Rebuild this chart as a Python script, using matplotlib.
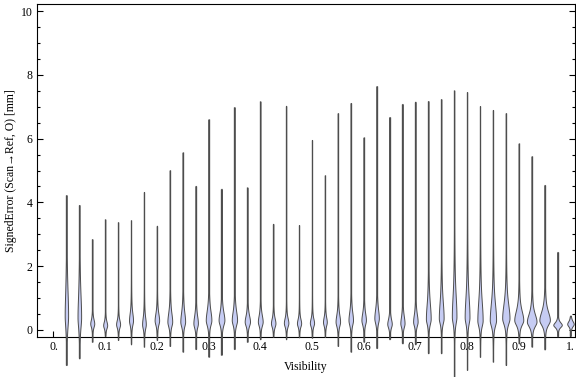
import numpy as np
import matplotlib
matplotlib.use("Agg")
import matplotlib.pyplot as plt
from matplotlib.ticker import MultipleLocator, FixedLocator

plt.rcParams['font.family'] = ['Liberation Serif', 'DejaVu Serif']

# one violin per visibility bin
visibility = [0.025, 0.05, 0.075, 0.1, 0.125, 0.15, 0.175, 0.2, 0.225, 0.25,
              0.275, 0.3, 0.325, 0.35, 0.375, 0.4, 0.425, 0.45, 0.475, 0.5,
              0.525, 0.55, 0.575, 0.6, 0.625, 0.65, 0.675, 0.7, 0.725, 0.75,
              0.775, 0.8, 0.825, 0.85, 0.875, 0.9, 0.925, 0.95, 0.975, 1.0]

# range of signed error per bin [mm]
err_max = [4.23, 3.92, 2.85, 3.47, 3.38, 3.44, 4.33, 3.27, 5.01, 5.57,
           4.52, 6.61, 4.43, 6.99, 4.47, 7.17, 3.33, 7.03, 3.29, 5.96,
           4.85, 6.80, 7.12, 6.04, 7.65, 6.68, 7.09, 7.16, 7.18, 7.24,
           7.51, 7.46, 7.02, 6.90, 6.80, 5.85, 5.45, 4.55, 2.45, 0.45]
err_min = [-1.10, -0.89, -0.37, -0.19, -0.31, -0.45, -0.52, -0.31, -0.50, -0.68,
           -0.60, -0.84, -0.78, -0.60, -0.37, -0.29, -0.21, -0.29, -0.23, -0.24,
           -0.22, -0.50, -0.68, -0.37, -0.57, -0.29, -0.42, -0.45, -0.73, -0.73,
           -1.46, -1.25, -0.84, -0.99, -1.10, -0.42, -0.52, -0.61, -0.20, -0.19]

# density summary: mode, relative peak density, spread above / below mode
mode = [0.45, 0.40, 0.20, 0.15, 0.18, 0.30, 0.18, 0.30, 0.26, 0.26,
        0.21, 0.31, 0.31, 0.31, 0.26, 0.26, 0.21, 0.22, 0.21, 0.22,
        0.25, 0.26, 0.31, 0.31, 0.37, 0.19, 0.21, 0.26, 0.35, 0.37,
        0.42, 0.40, 0.30, 0.31, 0.37, 0.31, 0.26, 0.31, 0.16, 0.19]
peak = [3.4, 3.6, 4.0, 4.0, 4.0, 4.0, 3.7, 4.5, 4.8, 4.8,
        4.5, 5.6, 5.8, 5.3, 5.3, 4.8, 4.5, 4.5, 4.2, 4.2,
        3.8, 4.5, 4.5, 4.5, 4.5, 4.5, 4.2, 4.5, 4.8, 4.8,
        4.6, 4.8, 5.3, 6.3, 7.3, 9.0, 9.6, 10.5, 8.5, 6.5]
spread_up = [1.00, 0.90, 0.17, 0.15, 0.17, 0.30, 0.28, 0.28, 0.35, 0.38,
             0.30, 0.38, 0.32, 0.35, 0.25, 0.26, 0.20, 0.20, 0.18, 0.18,
             0.20, 0.28, 0.33, 0.28, 0.35, 0.20, 0.28, 0.30, 0.60, 0.65,
             0.85, 0.80, 0.75, 0.65, 0.55, 0.36, 0.30, 0.33, 0.10, 0.11]
spread_dn = [0.45, 0.40, 0.13, 0.12, 0.13, 0.18, 0.17, 0.17, 0.18, 0.18,
             0.17, 0.20, 0.19, 0.19, 0.16, 0.16, 0.14, 0.14, 0.13, 0.13,
             0.14, 0.17, 0.19, 0.17, 0.19, 0.14, 0.15, 0.16, 0.20, 0.20,
             0.26, 0.25, 0.22, 0.22, 0.22, 0.18, 0.17, 0.18, 0.085, 0.09]

fill_col = '#c6ccf3'
edge_col = '#4d4d4d'
width_scale = 0.5 / 517.0   # peak value -> half width in x units

fig = plt.figure(figsize=(5.76, 3.77), dpi=100)
ax = fig.add_axes([0.0642, 0.1053, 0.934, 0.884])

# thin tails covering the full range
ax.vlines(visibility, err_min, err_max, colors=edge_col, lw=1.0, alpha=0.85,
          clip_on=False, zorder=2)

for x, lo, hi, m, p, su, sd in zip(visibility, err_min, err_max, mode, peak,
                                   spread_up, spread_dn):
    y = np.linspace(lo, hi, 800)
    s = np.where(y > m, su, sd)
    half = p * width_scale * (1 + 0.5 * ((y - m) / s) ** 2) ** -1.5
    ax.fill_betweenx(y, x - half, x + half, facecolor=fill_col,
                     edgecolor=edge_col, lw=0.7, clip_on=False, zorder=3)

ax.set_xlim(-0.0319, 1.0087)
ax.set_ylim(-0.229, 10.22)

ax.xaxis.set_major_locator(FixedLocator([0, .1, .2, .3, .4, .5, .6, .7, .8, .9, 1.0]))
ax.set_xticklabels(['0.', '0.1', '0.2', '0.3', '0.4', '0.5', '0.6', '0.7', '0.8', '0.9', '1.'])
ax.yaxis.set_major_locator(MultipleLocator(2))
ax.yaxis.set_minor_locator(MultipleLocator(0.5))

ax.tick_params(which='both', direction='in', top=False, right=True,
               labelsize=8.5, width=0.8, colors='black')
ax.tick_params(which='major', length=4, pad=3)
ax.tick_params(which='minor', length=2.3)
for sp in ax.spines.values():
    sp.set_linewidth(0.8)

ax.set_xlabel('Visibility', fontsize=8.5)
ax.set_ylabel('SignedError (Scan\u2192Ref, O) [mm]', fontsize=8.5)
ax.xaxis.set_label_coords(0.5, -0.072)
ax.yaxis.set_label_coords(-0.037, 0.5)

fig.savefig('out.png', dpi=100)
